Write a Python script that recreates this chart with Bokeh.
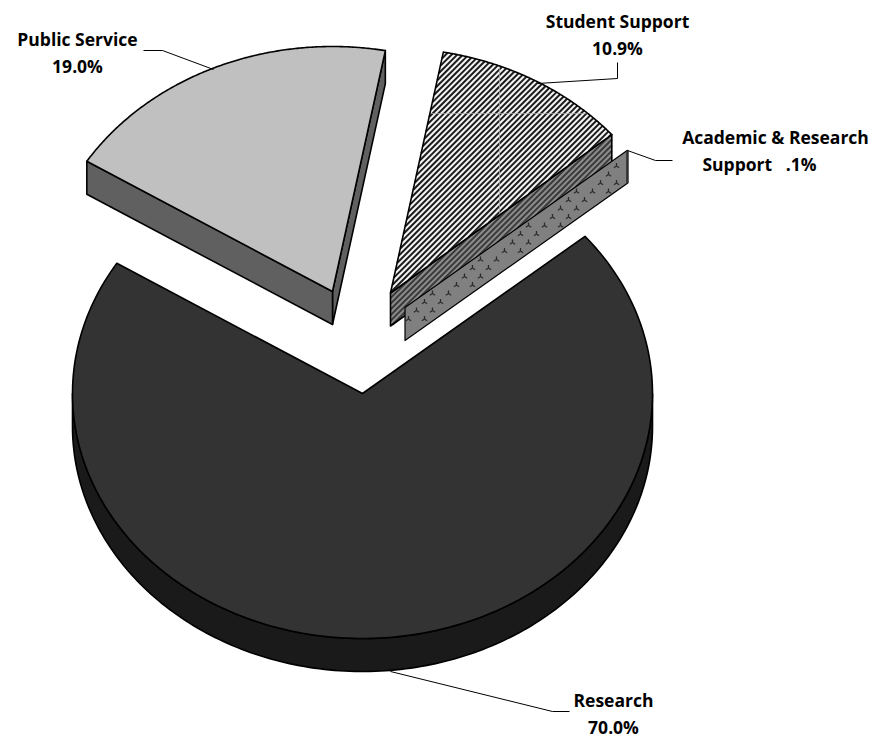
import numpy as np
from bokeh.plotting import figure
from bokeh.models import Range1d
from bokeh.core.properties import value
from bokeh.embed import file_html
from bokeh.resources import INLINE

categories = ["Public Service", "Student Support", "Academic & Research Support", "Research"]
shares = [19.0, 10.9, 0.1, 70.0]
label_lines = [["Public Service", "19.0%"], ["Student Support", "10.9%"],
               ["Academic & Research", "Support\u00a0\u00a0\u00a0.1%"], ["Research", "70.0%"]]

RX, RY, DEPTH = 290.0, 245.0, 33.0
START = 147.9
apex = {"Public Service": (332, 291), "Student Support": (390, 292.5),
        "Academic & Research Support": (404.5, 307), "Research": (362, 393)}
label_pos = {"Public Service": [(77, 38), (77, 65)], "Student Support": [(617, 20), (617, 47)],
             "Academic & Research Support": [(775, 136), (759, 163)], "Research": [(613, 699), (613, 726)]}
leaders = {"Public Service": ([143, 162, 213], [50, 50, 69]),
           "Student Support": ([537, 617, 617], [83, 78, 62]),
           "Academic & Research Support": ([627, 655, 672], [150, 160, 160]),
           "Research": ([390, 552, 569], [671, 711, 711])}
top_fill = {"Public Service": "#c0c0c0", "Student Support": "#f4f4f4",
            "Academic & Research Support": "#808080", "Research": "#333333"}
side_fill = {"Public Service": "#606060", "Student Support": "#8c8c8c",
             "Academic & Research Support": "#808080", "Research": "#1a1a1a"}

p = figure(width=882, height=737, x_range=Range1d(0, 882), y_range=Range1d(737, 0),
           output_backend="svg", toolbar_location=None, min_border=0,
           x_axis_location=None, y_axis_location=None, outline_line_color=None)
p.grid.visible = False
p.background_fill_color = "#ffffff"


def arc(cx, cy, a0, a1, n=90):
    t = np.radians(np.linspace(a0, a1, n))
    return cx + RX * np.cos(t), cy - RY * np.sin(t)


def clip_line(poly, p0, d):
    """Part of the line p0 + s*d inside the convex polygon poly."""
    lo, hi = -1e9, 1e9
    n = len(poly)
    area = sum(poly[i][0] * poly[(i + 1) % n][1] - poly[(i + 1) % n][0] * poly[i][1] for i in range(n))
    sign = 1 if area > 0 else -1
    for i in range(n):
        a, b = poly[i], poly[(i + 1) % n]
        ex, ey = b[0] - a[0], b[1] - a[1]
        num = ex * (p0[1] - a[1]) - ey * (p0[0] - a[0])
        den = ex * d[1] - ey * d[0]
        num, den = num * sign, den * sign
        if abs(den) < 1e-9:
            if num < 0:
                return None
        elif den > 0:
            lo = max(lo, -num / den)
        else:
            hi = min(hi, -num / den)
    if lo >= hi:
        return None
    return [p0[0] + lo * d[0], p0[0] + hi * d[0]], [p0[1] + lo * d[1], p0[1] + hi * d[1]]


def stripes(poly, color, width):
    d = (1.0, -1.0)
    xs, ys = [], []
    for c in np.arange(300, 1200, 5.7):
        seg = clip_line(poly, (c, 0.0), d)
        if seg:
            xs.append(seg[0])
            ys.append(seg[1])
    p.multi_line(xs, ys, line_color=color, line_width=width)


def inside(poly, x, y):
    n = len(poly)
    area = sum(poly[i][0] * poly[(i + 1) % n][1] - poly[(i + 1) % n][0] * poly[i][1] for i in range(n))
    s = 1 if area > 0 else -1
    for i in range(n):
        a, b = poly[i], poly[(i + 1) % n]
        if s * ((b[0] - a[0]) * (y - a[1]) - (b[1] - a[1]) * (x - a[0])) < 0:
            return False
    return True


LINE = dict(line_color="#000000", line_width=1.6, line_join="round")
angle = START
geometry = {}
for name, share in zip(categories, shares):
    sweep = share * 3.6
    geometry[name] = (angle, angle - sweep)
    angle -= sweep

for name in categories:
    cx, cy = apex[name]
    a0, a1 = geometry[name]
    if name == "Research":
        ax, ay = arc(cx, cy, 180, 360, 180)
        p.patch(list(ax) + list(ax[::-1]), list(ay) + list(ay[::-1] + DEPTH),
                fill_color=side_fill[name], **LINE)
    else:
        ex, ey = arc(cx, cy, a1, a1, 1)
        face = [(cx, cy), (ex[0], ey[0]), (ex[0], ey[0] + DEPTH), (cx, cy + DEPTH)]
        p.patch(*zip(*face), fill_color=side_fill[name], line_color=None)
        if name == "Student Support":
            stripes(face, "#3a3a3a", 2.0)
        if name == "Academic & Research Support":
            mx, my = [], []
            for r, yy in enumerate(np.arange(140, 350, 8.5)):
                for xx in np.arange(400 + (r % 2) * 8, 640, 16.0):
                    if inside(face, xx, yy) and inside(face, xx - 3, yy - 3) and inside(face, xx + 3, yy + 3):
                        mx.append(xx)
                        my.append(yy)
            p.scatter(mx, my, marker="y", size=6, angle=np.pi, line_color="#2c2c2c", line_width=1.3)
        p.patch(*zip(*face), fill_color=None, line_color="#000000", line_join="round",
                line_width=1.2 if name.startswith("Academic") else 1.6)
        if name == "Academic & Research Support":
            p.line([ex[0], ex[0]], [ey[0], ey[0] + DEPTH], line_color="#303030", line_width=2.5)
        if name == "Public Service":
            ex, ey = arc(cx, cy, a0, a0, 1)
            p.patch([cx, ex[0], ex[0], cx], [cy, ey[0], ey[0] + DEPTH, cy + DEPTH],
                    fill_color=side_fill[name], **LINE)
    ax, ay = arc(cx, cy, a0, a1, 200)
    top = [(cx, cy)] + list(zip(ax, ay))
    if name.startswith("Academic"):
        continue
    p.patch(*zip(*top), fill_color=top_fill[name], line_color=None)
    if name == "Student Support":
        stripes(top, "#1c1c1c", 2.0)
        for p0, d in (((499.0, 0.0), (0.0, 1.0)), ((0.0, 113.0), (1.0, 0.0))):
            seg = clip_line(top, p0, d)
            if seg:
                p.line(seg[0], seg[1], line_color="#b0b0b0", line_width=1, line_alpha=0.7)
    p.patch(*zip(*top), fill_color=None, **LINE)

for name in categories:
    lx, ly = leaders[name]
    p.line(lx, ly, line_color="#000000", line_width=1)
    for line, (tx, ty) in zip(label_lines[categories.index(name)], label_pos[name]):
        p.text([tx], [ty], text=[line], text_font=value("Open Sans"), text_font_style="bold",
               text_font_size="17.5px", text_color="#000000", text_align="center", text_baseline="middle")

open("out.html", "w").write(file_html(p, INLINE))
